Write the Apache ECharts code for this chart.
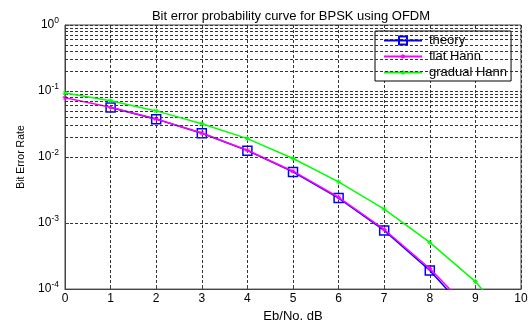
<!DOCTYPE html>
<html>
<head>
<meta charset="utf-8">
<script src="https://cdn.jsdelivr.net/npm/echarts@6/dist/echarts.min.js"></script>
<style>
  html, body { margin: 0; padding: 0; background: #fff; }
  #chart { width: 531px; height: 328px; }
</style>
</head>
<body>
<div id="chart"></div>
<script>
// Eb/No in dB
const ebno = [0, 1, 2, 3, 4, 5, 6, 7, 8, 9, 10];
// Bit error rates per curve (theory is evaluated from 1 dB onwards)
const theory = [null, 0.0563, 0.0375, 0.0229, 0.0125, 0.00595, 0.00239, 0.000773, 0.000191, 0.0000336, 0.00000387];
const flatHann = [0.0790, 0.0566, 0.0378, 0.0231, 0.0127, 0.0061, 0.00246, 0.00080, 0.000205, 0.000040, 0.0000050];
const gradualHann = [0.093, 0.071, 0.050, 0.032, 0.019, 0.0095, 0.0042, 0.00163, 0.00051, 0.00013, 0.000020];
// Minor log grid values (2..9 in each decade) plus the inner decades
const minorGrid = [];
for (let d = -4; d < 0; d++) {
  for (let m = 2; m <= 9; m++) minorGrid.push(m * Math.pow(10, d));
}
const decades = [1e-3, 1e-2, 1e-1];

const gridDash = { color: '#333', width: 1, type: [3, 2] };
// small asterisk centred in a larger invisible box so it stays small in the legend too
const asterisk = 'path://M0,0L0,0M20,20L20,20M10,5L10,15M5,10L15,10M6.5,6.5L13.5,13.5M13.5,6.5L6.5,13.5';

const pairs = (ys) => ebno.map((x, i) => [x, ys[i]]).filter(p => p[1] !== null);

const chart = echarts.init(document.getElementById('chart'), null, { renderer: 'canvas' });
chart.setOption({
  animation: false,
  backgroundColor: '#fff',
  textStyle: { fontFamily: 'Liberation Sans, Arial, sans-serif' },
  title: {
    text: 'Bit error probability curve for BPSK using OFDM',
    left: 286, top: 5, textAlign: 'center',
    textStyle: { fontSize: 13, fontWeight: 'normal', color: '#000' }
  },
  grid: {
    left: 65, right: 10, top: 25, bottom: 27,
    show: true, borderColor: '#444', borderWidth: 1, backgroundColor: '#fff'
  },
  legend: {
    left: 375, top: 31, orient: 'vertical',
    backgroundColor: '#fff', borderColor: '#000', borderWidth: 1,
    padding: [2, 4, 1, 8], itemGap: 1, itemWidth: 38, itemHeight: 10,
    textStyle: { fontSize: 13, color: '#000', lineHeight: 15, padding: [0, 0, 0, 2] },
    data: ['theory', 'flat Hann', 'gradual Hann']
  },
  xAxis: {
    type: 'value', min: 0, max: 10, interval: 1,
    name: 'Eb/No. dB', nameLocation: 'middle', nameGap: 19,
    nameTextStyle: { fontSize: 13, color: '#000' },
    axisLine: { lineStyle: { color: '#444' } },
    axisTick: { inside: true, length: 4, lineStyle: { color: '#444' } },
    axisLabel: { fontSize: 12, color: '#000', margin: 4 },
    splitLine: { show: true, lineStyle: gridDash }
  },
  yAxis: {
    type: 'log', logBase: 10, min: 1e-4, max: 1,
    name: 'Bit Error Rate', nameLocation: 'middle', nameGap: 38,
    nameTextStyle: { fontSize: 10.5, color: '#000' },
    axisLine: { show: true, lineStyle: { color: '#444' } },
    axisTick: { inside: true, length: 4, lineStyle: { color: '#444' } },
    axisLabel: {
      fontSize: 12, color: '#000', margin: 6,
      formatter: function (v) {
        const e = Math.round(Math.log10(v));
        return '10{sup|' + e + '}';
      },
      rich: { sup: { fontSize: 8.5, verticalAlign: 'bottom', padding: [0, 0, 8, 0] } }
    },
    splitLine: { show: true, lineStyle: gridDash }
  },
  series: [
    {
      name: '_minorGrid', type: 'line', data: [], silent: true,
      markLine: {
        silent: true, symbol: 'none', label: { show: false },
        lineStyle: gridDash, animation: false,
        data: minorGrid.concat(decades).map(v => ({ yAxis: v }))
      }
    },
    {
      name: 'theory', type: 'line', clip: true,
      data: pairs(theory),
      symbol: 'rect', symbolSize: 9,
      lineStyle: { color: '#0000ff', width: 1.5 },
      itemStyle: { color: 'rgba(0,0,0,0)', borderColor: '#0000ff', borderWidth: 1.5 },
      z: 3
    },
    {
      name: 'flat Hann', type: 'line', clip: true,
      data: pairs(flatHann),
      symbol: asterisk, symbolSize: 10,
      lineStyle: { color: '#ff00ff', width: 1.5 },
      itemStyle: { color: '#ff00ff', borderColor: '#ff00ff', borderWidth: 1 },
      z: 4
    },
    {
      name: 'gradual Hann', type: 'line', clip: true,
      data: pairs(gradualHann),
      symbol: asterisk, symbolSize: 10,
      lineStyle: { color: '#00ff00', width: 1.5 },
      itemStyle: { color: '#00ff00', borderColor: '#00ff00', borderWidth: 1 },
      z: 5
    }
  ]
});
</script>
</body>
</html>
